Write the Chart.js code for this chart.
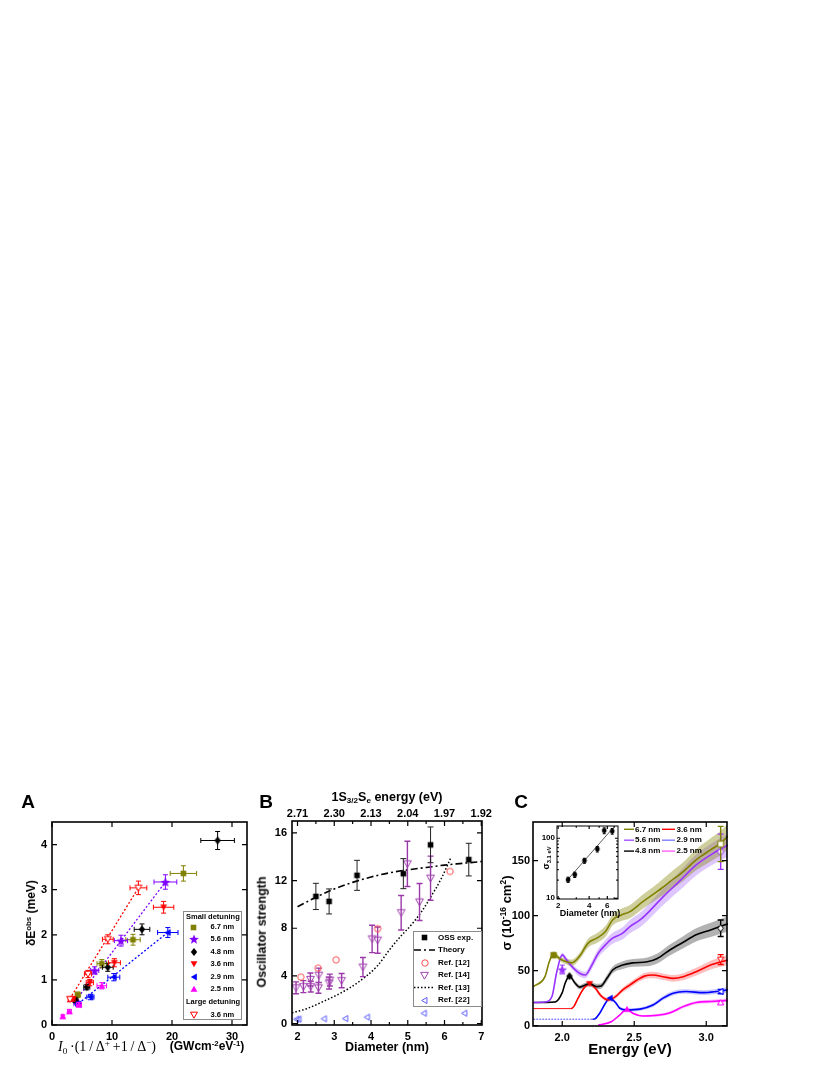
<!DOCTYPE html>
<html>
<head>
<meta charset="utf-8">
<title>Stark shift / oscillator strength / absorption</title>
<script src="https://cdn.jsdelivr.net/npm/chart.js@4.4.1/dist/chart.umd.min.js"></script>
<style>
  body { margin: 0; width: 830px; height: 1075px; background: #fff; position: relative; overflow: hidden;
         font-family: 'Liberation Sans', Arial, sans-serif; }
  canvas { position: absolute; }
  .lbl { position: absolute; white-space: nowrap; font-weight: bold; color: #000; line-height: 1; }
  .lbl sup, .lbl sub { font-size: 65%; position: relative; vertical-align: baseline; line-height: 0; }
  .lbl sup { top: -0.55em; }
  .lbl sub { top: 0.3em; }
</style>
</head>
<body>
<canvas id="chartA" width="260" height="295" style="left:0;top:780px"></canvas>
<canvas id="chartB" width="260" height="295" style="left:250px;top:780px"></canvas>
<canvas id="chartC" width="350" height="295" style="left:480px;top:780px"></canvas>
<canvas id="chartInset" width="100" height="110" style="left:528px;top:815px"></canvas>
<script>
// ---------- Panel A: shift vs scaled intensity, points are [x, y, xErr, yErr] ----------
const shiftD67 = [[4.3, 0.67, 0.4, 0.06], [8.3, 1.36, 0.8, 0.09], [13.5, 1.89, 1.2, 0.12], [21.9, 3.36, 2.2, 0.17]];
const shiftD56 = [[4.0, 0.52, 0.4, 0.05], [7.1, 1.21, 0.7, 0.08], [11.5, 1.87, 1.1, 0.12], [18.9, 3.17, 1.9, 0.16]];
const shiftD48 = [[3.9, 0.55, 0.4, 0.05], [5.8, 0.84, 0.5, 0.06], [9.3, 1.28, 0.9, 0.09], [15.0, 2.12, 1.3, 0.12], [27.6, 4.09, 2.8, 0.2]];
const shiftD36 = [[3.5, 0.58, 0.35, 0.05], [6.3, 0.94, 0.6, 0.07], [10.4, 1.38, 1.0, 0.09], [18.6, 2.61, 1.7, 0.13]];
const shiftD29 = [[4.4, 0.46, 0.4, 0.05], [6.4, 0.62, 0.6, 0.06], [10.3, 1.06, 1.0, 0.08], [19.3, 2.05, 1.7, 0.11]];
const shiftD25 = [[1.8, 0.19, 0.2, 0.03], [2.9, 0.30, 0.3, 0.04], [4.5, 0.45, 0.4, 0.05], [8.3, 0.87, 0.8, 0.07]];
const shiftLarge36 = [[3.0, 0.57, 0.3, 0.05], [6.0, 1.13, 0.6, 0.08], [9.3, 1.90, 0.9, 0.1], [14.4, 3.04, 1.4, 0.15]];
const fitLarge36 = [[2.6, 0.5], [14.4, 3.04]];
const fitD56 = [[3.6, 0.48], [18.9, 3.17]];
const fitD29 = [[3.9, 0.42], [19.3, 2.05]];
const ticksAx = [0, 10, 20, 30];
const ticksAy = [0, 1, 2, 3, 4];

// ---------- Panel B: oscillator strength vs diameter ----------
const ossExp = [[2.5, 10.67, 1.1], [2.86, 10.25, 1.05], [3.62, 12.44, 1.26], [4.88, 12.58, 1.26], [5.62, 15.0, 1.5], [6.66, 13.76, 1.37]];
const theoryD = [2.0, 2.5, 3.0, 3.5, 4.0, 4.5, 5.0, 5.5, 6.0, 6.5, 7.0, 7.05];
const theoryF = [9.8, 10.6, 11.3, 11.85, 12.3, 12.65, 12.9, 13.1, 13.3, 13.45, 13.6, 13.62];
const ref12 = [[2.09, 3.9], [2.56, 4.65], [3.05, 5.35], [4.18, 7.96], [6.15, 12.77]];
const ref14 = [[1.96, 3.0, 0.5], [2.16, 3.1, 0.5], [2.35, 3.7, 0.55], [2.36, 3.1, 0.45], [2.58, 4.05, 0.6], [2.57, 3.0, 0.45],
               [2.86, 3.4, 0.5], [2.88, 3.65, 0.5], [3.2, 3.6, 0.6], [3.78, 4.74, 0.8], [4.03, 7.1, 1.15], [4.18, 7.0, 1.1],
               [4.82, 9.3, 1.45], [4.99, 13.4, 1.9], [5.32, 10.2, 1.55], [5.62, 12.2, 1.85]];
const ref13D = [1.85, 2.25, 2.7, 3.2, 3.62, 4.16, 4.53, 4.8, 5.1, 5.4, 5.62, 5.9, 6.17];
const ref13F = [0.9, 1.25, 1.85, 2.6, 3.4, 4.8, 6.3, 7.3, 8.3, 9.5, 10.6, 12.1, 13.9];
const ref22 = [[1.97, 0.37], [2.03, 0.37], [2.72, 0.4], [3.3, 0.42], [3.89, 0.54], [5.44, 0.87], [6.54, 0.87]];
const ticksBx = [2, 2.5, 3, 3.5, 4, 4.5, 5, 5.5, 6, 6.5, 7];
const ticksBy = [0, 4, 8, 12, 16];
const topDiam = [2, 3, 4, 5, 6, 7];
const topEnergy = ['2.71', '2.30', '2.13', '2.04', '1.97', '1.92'];

// ---------- Panel C: absorption cross-section, points are [E (eV), sigma, band half-width] ----------
const sizesC = ['6.7 nm', '5.6 nm', '4.8 nm', '3.6 nm', '2.9 nm', '2.5 nm'];
const sigma67 = [[1.80, 35.5, 0.8], [1.88, 44.5, 1.2], [1.91, 58, 1.5], [1.94, 65.5, 2], [1.98, 61, 2], [2.03, 58, 2.5],
  [2.065, 57, 3], [2.12, 63, 3], [2.18, 75, 4], [2.24, 79.5, 4.5], [2.30, 85.5, 5], [2.35, 96, 5], [2.41, 100.6, 5.5],
  [2.47, 103.6, 6], [2.56, 112.7, 6.5], [2.66, 122, 7], [2.75, 131, 8], [2.84, 140, 8.5], [2.93, 150.6, 9.5],
  [3.03, 159.7, 10.5], [3.10, 165.8, 11], [3.15, 172, 11.5]];
const sigma56 = [[1.80, 21, 0.5], [1.88, 21.5, 0.6], [1.93, 27, 1], [1.96, 47.6, 1.5], [2.00, 64.3, 2], [2.03, 59.7, 2.5],
  [2.08, 52, 2.5], [2.12, 47.6, 3], [2.16, 46, 3], [2.20, 53.6, 3.5], [2.25, 65.8, 4], [2.30, 73.4, 4.5], [2.35, 79.5, 5],
  [2.42, 84, 5.5], [2.47, 90, 6], [2.54, 96, 6.5], [2.59, 102, 7], [2.70, 117, 7.5], [2.82, 132, 8.5], [2.93, 146, 9.5],
  [3.05, 156.7, 10], [3.15, 164, 10.5]];
const sigma48 = [[1.80, 21, 0.5], [1.95, 21.5, 0.6], [2.00, 30, 1], [2.02, 38.5, 1.5], [2.05, 45, 1.8], [2.09, 38.5, 2],
  [2.12, 35, 2], [2.16, 37, 2], [2.19, 38, 2.2], [2.24, 35.5, 2.5], [2.27, 36, 2.5], [2.31, 43, 3], [2.35, 50.6, 3],
  [2.42, 55, 3.5], [2.49, 57, 3.5], [2.59, 58, 4], [2.66, 61, 4.5], [2.75, 69, 5], [2.84, 75.8, 5.5], [2.93, 82.5, 6],
  [3.03, 87, 6.5], [3.15, 92.5, 7]];
const sigma36 = [[1.80, 15.5, 0.3], [2.06, 15.5, 0.4], [2.08, 17.3, 0.6], [2.11, 25, 1], [2.15, 34, 1.5], [2.19, 38, 1.8],
  [2.23, 34, 1.8], [2.27, 27, 1.8], [2.32, 23.4, 1.8], [2.37, 26.4, 2], [2.42, 32.5, 2.2], [2.47, 37, 2.5], [2.52, 41.5, 2.5],
  [2.57, 45, 2.8], [2.63, 46, 3], [2.70, 44.5, 3], [2.77, 43, 3], [2.84, 44.5, 3.2], [2.93, 49, 3.5], [3.03, 55, 4],
  [3.15, 59.7, 4.5]];
const sigma29 = [[1.80, 5.8, 0.2], [2.21, 5.8, 0.3], [2.23, 6.4, 0.5], [2.26, 11.3, 0.8], [2.30, 20.4, 1.2], [2.33, 25, 1.5],
  [2.37, 21, 1.5], [2.40, 15.8, 1.5], [2.45, 14.3, 1.5], [2.54, 15, 1.5], [2.63, 18.8, 1.8], [2.70, 25, 2], [2.77, 29.5, 2],
  [2.86, 31, 2], [2.98, 30, 2.2], [3.07, 31, 2.2], [3.15, 32.5, 2.5]];
const sigma25 = [[2.25, 0.5, 0.2], [2.34, 3.6, 0.5], [2.40, 9.7, 0.8], [2.45, 15, 1], [2.49, 11.3, 1], [2.56, 8.8, 1],
  [2.66, 9.4, 1.2], [2.75, 11.8, 1.3], [2.84, 17.3, 1.5], [2.93, 21, 1.5], [3.03, 22, 1.6], [3.15, 23, 1.8]];
const peakE = [1.94, 2.00, 2.05, 2.19, 2.33, 2.45];
const peakSigma = [64, 51, 45, 38, 25, 15];
const peakErr = [0, 4, 0, 0, 0, 0];
const endE = 3.10;
const endSigma = [165, 158, 88.5, 60, 31, 21];
const endErr = [16, 16, 7.5, 4.5, 2, 1.5];
const ticksCx = [2.0, 2.5, 3.0];
const ticksCy = [0, 50, 100, 150];

// inset: sigma at 3.1 eV vs diameter (log-log)
const insetDiam = [2.5, 2.9, 3.6, 4.8, 5.6, 6.7];
const insetSigma = [20.4, 24.7, 42.3, 66, 134, 131];
const insetErr = [2, 2.5, 4, 7, 15, 14];
const insetFit = [[2.4, 19.2], [6.9, 152]];
const ticksInX = [2, 3, 4, 5, 6, 7];
const ticksInY = [10, 20, 30, 40, 50, 60, 70, 80, 90, 100];

// ---------- helpers ----------
const OLIVE = '#808000', VIOLET = '#8000ff', RED = '#ff0000', BLUE = '#0000ff', MAGENTA = '#ff00ff';

function marker(shape, size, stroke, fill, lw) {
    lw = lw || 1;
    const s = Math.ceil(size + lw * 2 + 2);
    const c = document.createElement('canvas');
    c.width = s; c.height = s;
    const g = c.getContext('2d');
    const m = s / 2, r = size / 2;
    g.beginPath();
    if (shape === 'square') {
        g.rect(m - r * 0.8, m - r * 0.8, r * 1.6, r * 1.6);
    } else if (shape === 'circle') {
        g.arc(m, m, r * 0.8, 0, Math.PI * 2);
    } else if (shape === 'diamond') {
        g.moveTo(m, m - r); g.lineTo(m + r * 0.8, m); g.lineTo(m, m + r); g.lineTo(m - r * 0.8, m); g.closePath();
    } else if (shape === 'star') {
        for (let k = 0; k < 10; k++) {
            const rr = k % 2 ? r * 0.45 : r;
            const a = -Math.PI / 2 + k * Math.PI / 5;
            g.lineTo(m + rr * Math.cos(a), m + 0.6 + rr * Math.sin(a));
        }
        g.closePath();
    } else {
        // triangles, an up-pointing one turned round
        const rot = {triup: 0, tridown: Math.PI, trileft: -Math.PI / 2}[shape];
        const cx = m - (shape === 'trileft' ? -r * 0.2 : 0);
        const cy = m + (shape === 'triup' ? r * 0.2 : shape === 'tridown' ? -r * 0.2 : 0);
        for (let k = 0; k < 3; k++) {
            const a = -Math.PI / 2 + rot + k * 2 * Math.PI / 3;
            g.lineTo(cx + r * Math.cos(a), cy + r * Math.sin(a));
        }
        g.closePath();
    }
    if (fill) { g.fillStyle = fill; g.fill(); }
    if (stroke) { g.strokeStyle = stroke; g.lineWidth = lw; g.stroke(); }
    return c;
}

function pts(arr) { return arr.map(p => ({x: p[0], y: p[1]})); }
function fixTicks(values) { return s => { s.ticks = values.map(v => ({value: v})); }; }
function fixWidth(w) { return s => { s.width = w; }; }
function fixHeight(h) { return s => { s.height = h; }; }

function addLabel(html, cx, cy, size, opts) {
    opts = opts || {};
    const d = document.createElement('div');
    d.className = 'lbl';
    d.innerHTML = html;
    d.style.fontSize = size + 'px';
    d.style.left = cx + 'px';
    d.style.top = cy + 'px';
    d.style.transform = 'translate(-50%,-50%)' + (opts.rotate ? ' rotate(-90deg)' : '');
    if (opts.family) d.style.fontFamily = opts.family;
    if (opts.weight) d.style.fontWeight = opts.weight;
    document.body.appendChild(d);
}

// frame with inward ticks on all four sides
const framePlugin = {
    id: 'frame',
    defaults: {len: 5, lw: 1.6},
    afterDatasetsDraw(chart, args, o) {
        const {ctx, chartArea: a} = chart;
        const xs = chart.scales.x, ys = chart.scales.y;
        ctx.save();
        ctx.strokeStyle = '#000';
        ctx.lineWidth = 1.2;
        ctx.beginPath();
        xs.ticks.forEach(t => {
            const px = xs.getPixelForValue(t.value);
            const L = t.label === '' ? o.len * 0.6 : o.len;
            ctx.moveTo(px, a.bottom); ctx.lineTo(px, a.bottom - L);
            ctx.moveTo(px, a.top); ctx.lineTo(px, a.top + L);
        });
        ys.ticks.forEach(t => {
            const py = ys.getPixelForValue(t.value);
            const L = t.label === '' ? o.len * 0.6 : o.len;
            ctx.moveTo(a.left, py); ctx.lineTo(a.left + L, py);
            ctx.moveTo(a.right, py); ctx.lineTo(a.right - L, py);
        });
        ctx.stroke();
        ctx.lineWidth = o.lw;
        ctx.strokeRect(a.left, a.top, a.right - a.left, a.bottom - a.top);
        ctx.restore();
    }
};

// error bars, drawn just under each marker dataset
const errorBarPlugin = {
    id: 'errorBars',
    beforeDatasetDraw(chart, args) {
        const ds = chart.data.datasets[args.index];
        if (!ds.err) return;
        const xs = chart.scales[args.meta.xAxisID], ys = chart.scales[args.meta.yAxisID];
        const ctx = chart.ctx;
        const cap = ds.cap === undefined ? 2.5 : ds.cap;
        ctx.save();
        ctx.strokeStyle = ds.errColor || '#000';
        ctx.lineWidth = ds.errWidth || 1;
        ctx.beginPath();
        ds.data.forEach((p, j) => {
            const xe = ds.err[j][0], ye = ds.err[j][1];
            const x = xs.getPixelForValue(p.x), y = ys.getPixelForValue(p.y);
            if (xe) {
                const x0 = xs.getPixelForValue(p.x - xe), x1 = xs.getPixelForValue(p.x + xe);
                ctx.moveTo(x0, y); ctx.lineTo(x1, y);
                ctx.moveTo(x0, y - cap); ctx.lineTo(x0, y + cap);
                ctx.moveTo(x1, y - cap); ctx.lineTo(x1, y + cap);
            }
            if (ye) {
                const y0 = ys.getPixelForValue(p.y - ye), y1 = ys.getPixelForValue(p.y + ye);
                ctx.moveTo(x, y0); ctx.lineTo(x, y1);
                ctx.moveTo(x - cap, y0); ctx.lineTo(x + cap, y0);
                ctx.moveTo(x - cap, y1); ctx.lineTo(x + cap, y1);
            }
        });
        ctx.stroke();
        ctx.restore();
    }
};

// hand-placed legends, one per canvas id (must exist before the chart draws)
const legendDefs = {};
const legendPlugin = {
    id: 'panelLegend',
    afterDraw(chart) {
        const L = legendDefs[chart.canvas.id];
        if (!L) return;
        const ctx = chart.ctx;
        ctx.save();
        if (L.box) {
            ctx.strokeStyle = '#8a8a8a';
            ctx.lineWidth = 1;
            ctx.fillStyle = '#fff';
            ctx.fillRect(L.box[0] + 0.5, L.box[1] + 0.5, L.box[2], L.box[3]);
            ctx.strokeRect(L.box[0] + 0.5, L.box[1] + 0.5, L.box[2], L.box[3]);
        }
        ctx.font = L.font;
        ctx.fillStyle = '#000';
        ctx.textBaseline = 'middle';
        L.rows.forEach(r => {
            if (r.line) {
                ctx.beginPath();
                ctx.setLineDash(r.line.dash || []);
                ctx.strokeStyle = r.line.color;
                ctx.lineWidth = r.line.width || 1.5;
                ctx.moveTo(r.line.x0, r.y);
                ctx.lineTo(r.line.x1, r.y);
                ctx.stroke();
                ctx.setLineDash([]);
            }
            if (r.img) ctx.drawImage(r.img, Math.round(r.mx - r.img.width / 2), Math.round(r.y - r.img.height / 2));
            ctx.fillText(r.text, r.tx, r.y);
        });
        ctx.restore();
    }
};

Chart.register(framePlugin, errorBarPlugin, legendPlugin);
Chart.defaults.font.family = "'Liberation Sans', Arial, sans-serif";
Chart.defaults.font.weight = 'bold';
Chart.defaults.font.size = 11;
Chart.defaults.color = '#000';
Chart.defaults.animation = false;
Chart.defaults.plugins.legend.display = false;
Chart.defaults.plugins.tooltip.enabled = false;

function axis(min, max, ticks, fmt, extra) {
    return Object.assign({
        type: 'linear', min: min, max: max,
        grid: {display: false, drawTicks: false},
        border: {display: false},
        afterBuildTicks: fixTicks(ticks),
        ticks: {autoSkip: false, maxRotation: 0, padding: 5, callback: fmt}
    }, extra || {});
}

// ---------- Panel A ----------
const mA = {
    d67: marker('square', 7, null, OLIVE),
    d56: marker('star', 10, null, VIOLET),
    d48: marker('diamond', 8, null, '#000'),
    d36: marker('tridown', 8, null, RED),
    d29: marker('trileft', 8, null, BLUE),
    d25: marker('triup', 8, null, MAGENTA),
    l36: marker('tridown', 8, RED, '#fff', 1)
};

function seriesA(arr, img, color) {
    return {
        data: pts(arr), err: arr.map(p => [p[2], p[3]]), errColor: color, cap: 2.5,
        showLine: false, pointStyle: img, pointRadius: 4
    };
}
function fitLine(arr, color) {
    return {data: pts(arr), borderColor: color, borderWidth: 1.3, borderDash: [2, 2], pointRadius: 0, fill: false};
}

legendDefs.chartA = {
    box: [183, 131, 58, 108],
    font: "bold 7.5px 'Liberation Sans', Arial, sans-serif",
    rows: [
        {text: 'Small detuning', tx: 186, y: 136.5},
        {text: '6.7 nm', tx: 210.5, y: 147, img: mA.d67, mx: 193.5},
        {text: '5.6 nm', tx: 210.5, y: 159.3, img: mA.d56, mx: 193.5},
        {text: '4.8 nm', tx: 210.5, y: 171.7, img: mA.d48, mx: 193.5},
        {text: '3.6 nm', tx: 210.5, y: 184, img: mA.d36, mx: 193.5},
        {text: '2.9 nm', tx: 210.5, y: 196.5, img: mA.d29, mx: 193.5},
        {text: '2.5 nm', tx: 210.5, y: 209, img: mA.d25, mx: 193.5},
        {text: 'Large detuning', tx: 186, y: 221.7},
        {text: '3.6 nm', tx: 210.5, y: 234.5, img: mA.l36, mx: 193.5}
    ]
};

new Chart(document.getElementById('chartA'), {
    type: 'line',
    data: {datasets: [
        seriesA(shiftLarge36, mA.l36, RED),
        seriesA(shiftD25, mA.d25, MAGENTA),
        seriesA(shiftD29, mA.d29, BLUE),
        seriesA(shiftD36, mA.d36, RED),
        seriesA(shiftD48, mA.d48, '#000'),
        seriesA(shiftD56, mA.d56, VIOLET),
        seriesA(shiftD67, mA.d67, OLIVE),
        fitLine(fitLarge36, RED),
        fitLine(fitD56, VIOLET),
        fitLine(fitD29, BLUE)
    ]},
    options: {
        responsive: false,
        layout: {padding: {left: 0, right: 13, top: 42, bottom: 0}},
        scales: {
            x: axis(0, 32.5, ticksAx, v => String(v), {afterFit: fixHeight(50)}),
            y: axis(0, 4.5, ticksAy, v => String(v), {afterFit: fixWidth(52)})
        }
    }
});

// ---------- Panel B ----------
const mB = {
    oss: marker('square', 7, null, '#000'),
    r12: marker('circle', 8, '#ff5050', null, 1),
    r14: marker('tridown', 9, '#a040b0', null, 1),
    r22: marker('trileft', 7, '#5a5aff', null, 1)
};

legendDefs.chartB = {
    box: [163, 151, 68, 75],
    font: "bold 8px 'Liberation Sans', Arial, sans-serif",
    rows: [
        {text: 'OSS exp.', tx: 188, y: 157.5, img: mB.oss, mx: 174.5},
        {text: 'Theory', tx: 188, y: 170, line: {color: '#000', dash: [7, 3, 2, 3], x0: 164, x1: 185}},
        {text: 'Ref. [12]', tx: 188, y: 182.5, img: mB.r12, mx: 174.5},
        {text: 'Ref. [14]', tx: 188, y: 195, img: mB.r14, mx: 174.5},
        {text: 'Ref. [13]', tx: 188, y: 207.5, line: {color: '#000', dash: [1.5, 2], x0: 164, x1: 185}},
        {text: 'Ref. [22]', tx: 188, y: 220, img: mB.r22, mx: 174.5}
    ]
};

new Chart(document.getElementById('chartB'), {
    type: 'line',
    data: {datasets: [
        {data: pts(ossExp), err: ossExp.map(p => [0, p[2]]), errColor: '#222', cap: 3,
         showLine: false, pointStyle: mB.oss, pointRadius: 4},
        {data: pts(ref12), showLine: false, pointStyle: mB.r12, pointRadius: 4},
        {data: pts(ref14), err: ref14.map(p => [0, p[2]]), errColor: '#9a3aa8', errWidth: 1.4, cap: 3,
         showLine: false, pointStyle: mB.r14, pointRadius: 4},
        {data: pts(ref22), showLine: false, pointStyle: mB.r22, pointRadius: 4},
        {data: theoryD.map((d, i) => ({x: d, y: theoryF[i]})), borderColor: '#000', borderWidth: 1.6,
         borderDash: [7, 3, 2, 3], pointRadius: 0, cubicInterpolationMode: 'monotone', fill: false, clip: 1},
        {data: ref13D.map((d, i) => ({x: d, y: ref13F[i]})), borderColor: '#000', borderWidth: 1.5,
         borderDash: [1.5, 2], pointRadius: 0, cubicInterpolationMode: 'monotone', fill: false, clip: 1}
    ]},
    options: {
        responsive: false,
        layout: {padding: {left: 0, right: 28, top: 15, bottom: 0}},
        scales: {
            x: axis(1.85, 7.02, ticksBx, v => Number.isInteger(v) ? String(v) : '', {afterFit: fixHeight(50)}),
            x2: axis(1.85, 7.02, ticksBx, null, {position: 'top', afterFit: fixHeight(26),
                ticks: {autoSkip: false, maxRotation: 0, padding: 0,
                        callback: v => { const k = topDiam.indexOf(v); return k < 0 ? '' : topEnergy[k]; }}}),
            y: axis(-0.12, 17.0, ticksBy, v => String(v), {afterFit: fixWidth(42)})
        }
    }
});

// ---------- Panel C ----------
const curvesC = [sigma67, sigma56, sigma48, sigma36, sigma29, sigma25];
const colorsC = [OLIVE, '#9933ff', '#000000', RED, BLUE, MAGENTA];
const bandsC = ['rgba(128,128,0,0.38)', 'rgba(153,80,255,0.32)', 'rgba(0,0,0,0.30)',
                'rgba(255,0,0,0.25)', 'rgba(60,60,255,0.28)', 'rgba(255,0,255,0.25)'];
const peakShapes = ['square', 'star', 'diamond', 'tridown', 'trileft', 'triup'];
const endShapes = ['square', 'circle', 'diamond', 'tridown', 'trileft', 'triup'];

const markDs = [], lineDs = [], bandDs = [];
curvesC.forEach((arr, i) => {
    markDs.push({data: [{x: peakE[i], y: peakSigma[i]}], err: [[0, peakErr[i]]], errColor: colorsC[i], cap: 2.5,
        showLine: false, pointStyle: marker(peakShapes[i], i === 1 ? 10 : 8, null, colorsC[i]), pointRadius: 4});
    markDs.push({data: [{x: endE, y: endSigma[i]}], err: [[0, endErr[i]]], errColor: colorsC[i], errWidth: 1.4, cap: 3,
        showLine: false, pointStyle: marker(endShapes[i], 7, colorsC[i], '#fff', 1), pointRadius: 4});
    let seg;
    if (i === 4) seg = {borderColor: c => c.p1.parsed.x <= 2.21 ? '#8080ff' : undefined,
                        borderDash: c => c.p1.parsed.x <= 2.21 ? [1.5, 1.5] : undefined};
    if (i === 3) seg = {borderWidth: c => c.p1.parsed.x <= 2.06 ? 0.9 : undefined};
    lineDs.push({data: pts(arr), borderColor: colorsC[i], borderWidth: 1.6, pointRadius: 0,
        cubicInterpolationMode: 'monotone', fill: false, clip: 1, segment: seg});
    bandDs.push({data: arr.map(p => ({x: p[0], y: p[1] + p[2]})), borderWidth: 0, pointRadius: 0,
        cubicInterpolationMode: 'monotone', fill: false, clip: 1});
    bandDs.push({data: arr.map(p => ({x: p[0], y: p[1] - p[2]})), borderWidth: 0, pointRadius: 0,
        cubicInterpolationMode: 'monotone', fill: '-1', backgroundColor: bandsC[i], clip: 1});
});

const legLine = ['#808000', '#a050ff', '#000', '#ff0000', '#7f7fff', '#ff60ff'];
legendDefs.chartC = {
    font: "bold 8px 'Liberation Sans', Arial, sans-serif",
    rows: sizesC.map((s, i) => {
        const col = i < 3 ? 0 : 1, row = i % 3;
        const y = 49.3 + row * 10.9;
        return col === 0
            ? {text: s, tx: 155, y: y, line: {color: legLine[i], x0: 144, x1: 154, width: 1.4}}
            : {text: s, tx: 196.5, y: y, line: {color: legLine[i], x0: 182, x1: 195, width: 1.4}};
    })
};

new Chart(document.getElementById('chartC'), {
    type: 'line',
    data: {datasets: markDs.concat(lineDs, bandDs)},
    options: {
        responsive: false,
        layout: {padding: {left: 0, right: 103, top: 42, bottom: 0}},
        scales: {
            x: axis(1.797, 3.144, ticksCx, v => v.toFixed(1), {afterFit: fixHeight(49)}),
            y: axis(-0.3, 185, ticksCy, v => String(v), {afterFit: fixWidth(53),
                ticks: {autoSkip: false, padding: 3, callback: v => String(v)}})
        }
    }
});

// ---------- Inset ----------
const insetMark = marker('circle', 6, null, '#000');
new Chart(document.getElementById('chartInset'), {
    type: 'line',
    data: {datasets: [
        {data: insetDiam.map((d, i) => ({x: d, y: insetSigma[i]})), err: insetErr.map(e => [0, e]),
         errColor: '#000', cap: 1.5, showLine: false, pointStyle: insetMark, pointRadius: 3},
        {data: pts(insetFit), borderColor: '#333', borderWidth: 0.8, pointRadius: 0, fill: false}
    ]},
    options: {
        responsive: false,
        layout: {padding: {left: 0, right: 10, top: 11, bottom: 0}},
        plugins: {frame: {len: 3, lw: 1}},
        scales: {
            x: {type: 'logarithmic', min: 1.95, max: 7.62, grid: {display: false, drawTicks: false},
                border: {display: false}, afterBuildTicks: fixTicks(ticksInX), afterFit: fixHeight(26),
                ticks: {autoSkip: false, maxRotation: 0, padding: 2, font: {size: 8},
                        callback: v => (v === 2 || v === 4 || v === 6) ? String(v) : ''}},
            y: {type: 'logarithmic', min: 9.73, max: 160, grid: {display: false, drawTicks: false},
                border: {display: false}, afterBuildTicks: fixTicks(ticksInY), afterFit: fixWidth(29),
                ticks: {autoSkip: false, padding: 2, font: {size: 8},
                        callback: v => (v === 10 || v === 100) ? String(v) : ''}}
        }
    }
});

// ---------- text around the axes ----------
addLabel('A', 28, 801, 19);
addLabel('B', 266, 801, 19);
addLabel('C', 521, 801, 19);
addLabel('&delta;E<sup>obs</sup> (meV)', 31, 913, 12, {rotate: true});
addLabel('<i>I</i><sub>0</sub>&thinsp;&middot;(1&thinsp;/&thinsp;&Delta;<sup>+</sup>&thinsp;+1&thinsp;/&thinsp;&Delta;<sup>&minus;</sup>)',
         107, 1047, 14, {family: "'Liberation Serif', 'Times New Roman', serif", weight: 'normal'});
addLabel('(GWcm<sup>-2</sup>eV<sup>-1</sup>)', 207, 1046, 12);
addLabel('Oscillator strength', 262, 932, 12.5, {rotate: true});
addLabel('Diameter (nm)', 387, 1047, 12.5);
addLabel('1S<sub>3/2</sub>S<sub>e</sub> energy (eV)', 387, 797, 12.5);
addLabel('&sigma; (10<sup>-16</sup> cm<sup>2</sup>)', 506, 913, 13, {rotate: true});
addLabel('Energy (eV)', 630, 1048, 15);
addLabel('&sigma;<sub>3.1 eV</sub>', 546, 858, 9, {rotate: true});
addLabel('Diameter (nm)', 590, 913, 9);
</script>
</body>
</html>
